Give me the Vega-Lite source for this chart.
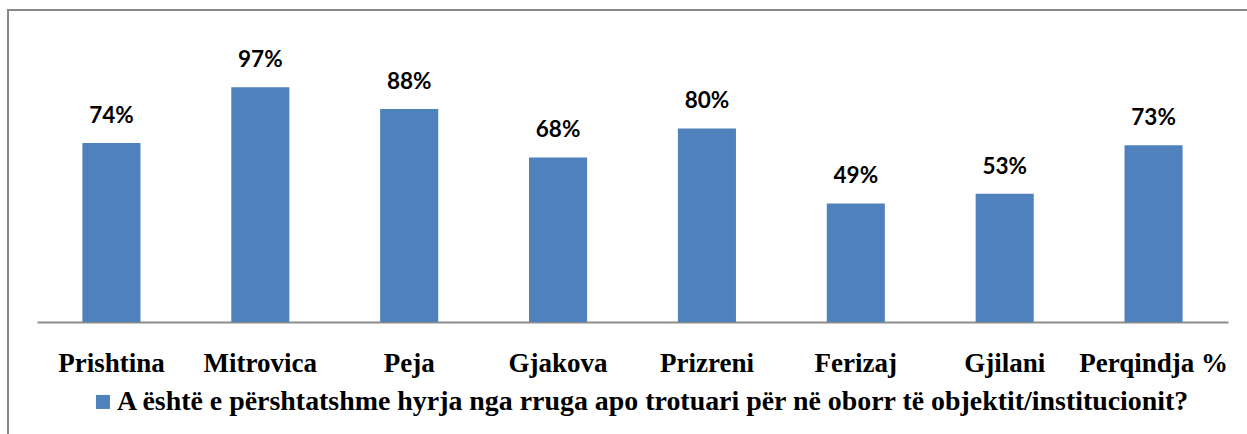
{
  "$schema": "https://vega.github.io/schema/vega-lite/v6.json",
  "width": 1250,
  "height": 430,
  "autosize": {"type": "none"},
  "padding": {"left": 8, "top": 10, "right": 0, "bottom": 0},
  "background": "white",
  "config": {"view": {"stroke": "#8a8a8a", "strokeWidth": 2}},
  "data": {
    "values": [
      {"region": "Prishtina", "value": 0.74},
      {"region": "Mitrovica", "value": 0.97},
      {"region": "Peja", "value": 0.88},
      {"region": "Gjakova", "value": 0.68},
      {"region": "Prizreni", "value": 0.80},
      {"region": "Ferizaj", "value": 0.49},
      {"region": "Gjilani", "value": 0.53},
      {"region": "Perqindja %", "value": 0.73}
    ]
  },
  "encoding": {
    "x": {
      "field": "region",
      "type": "nominal",
      "sort": null,
      "scale": {"range": [29, 1220], "paddingInner": 0.61, "paddingOuter": 0.305},
      "axis": {
        "title": null,
        "orient": "bottom",
        "offset": -118,
        "domain": true,
        "domainColor": "#8c8c8c",
        "domainWidth": 2,
        "ticks": false,
        "tickSize": 0,
        "grid": false,
        "labelAngle": 0,
        "labelFont": "Liberation Serif",
        "labelFontSize": 27,
        "labelFontWeight": "bold",
        "labelColor": "#000000",
        "labelBaseline": "alphabetic",
        "labelPadding": 49,
        "labelLimit": 0,
        "labelOverlap": false
      }
    },
    "y": {
      "field": "value",
      "type": "quantitative",
      "scale": {"domain": [0, 1], "range": [312, 70], "nice": false, "zero": true},
      "axis": null
    }
  },
  "layer": [
    {
      "mark": {"type": "bar"},
      "encoding": {
        "color": {
          "datum": "A është e përshtatshme hyrja nga rruga apo trotuari për në oborr të objektit/institucionit?",
          "type": "nominal",
          "scale": {"range": ["#4F81BD"]},
          "legend": {
            "title": null,
            "orient": "none",
            "legendX": 81,
            "legendY": 378,
            "symbolType": "square",
            "symbolSize": 196,
            "symbolStrokeWidth": 0,
            "labelFont": "Liberation Serif",
            "labelFontSize": 27.9,
            "labelFontWeight": "bold",
            "labelColor": "#000000",
            "labelLimit": 0,
            "labelOffset": 0,
            "padding": 0
          }
        }
      }
    },
    {
      "mark": {"type": "text", "font": "Lato", "fontWeight": "bold", "fontSize": 22.5, "baseline": "alphabetic", "dy": -20, "color": "#000000"},
      "encoding": {
        "text": {"field": "value", "type": "quantitative", "format": ".0%"}
      }
    }
  ]
}
